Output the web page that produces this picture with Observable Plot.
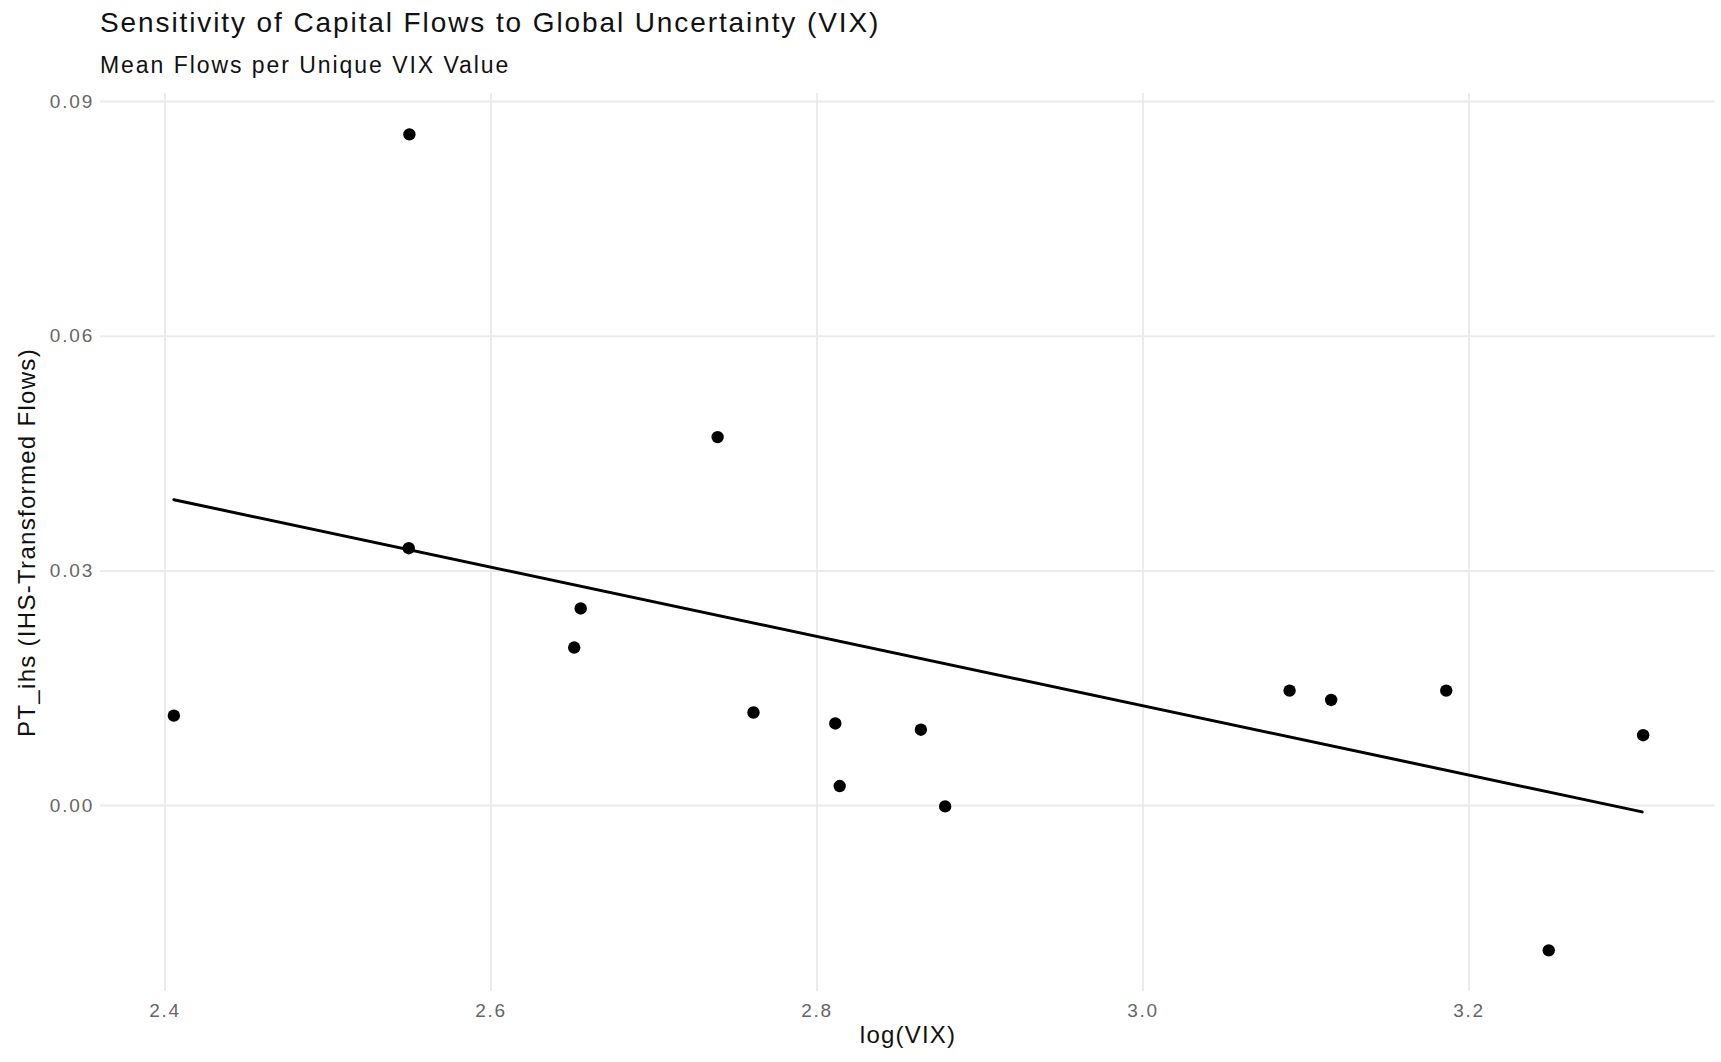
<!DOCTYPE html>
<html>
<head>
<meta charset="utf-8">
<script src="https://cdn.jsdelivr.net/npm/d3@7"></script>
<script src="https://cdn.jsdelivr.net/npm/@observablehq/plot@0.6"></script>
<style>
html, body { margin: 0; padding: 0; background: #fff; }
#wrap { position: relative; width: 1721px; height: 1062px; overflow: hidden; background: #fff; font-family: "Liberation Sans", Arial, sans-serif; }
#title { position: absolute; z-index: 2; left: 100px; top: 9px; font-size: 28px; line-height: 1; letter-spacing: 1.9px; color: #111; white-space: nowrap; }
#subtitle { position: absolute; z-index: 2; left: 100px; top: 54px; font-size: 23px; line-height: 1; letter-spacing: 1.95px; color: #111; white-space: nowrap; }
#chart { position: absolute; z-index: 1; left: 0; top: 75px; }
</style>
</head>
<body>
<div id="wrap">
  <div id="title"></div>
  <div id="subtitle"></div>
  <div id="chart"></div>
</div>
<script>
const titleText = "Sensitivity of Capital Flows to Global Uncertainty (VIX)";
const subtitleText = "Mean Flows per Unique VIX Value";
const xLabel = "log(VIX)";
const yLabel = "PT_ihs (IHS-Transformed Flows)";

// mean flows per unique VIX value
const logVix = [2.4054, 2.5499, 2.5495, 2.6550, 2.6510, 2.7390, 2.7610, 2.8112, 2.8139, 2.8637, 2.8786, 3.0899, 3.1154, 3.1860, 3.2489, 3.3068];
const ptIhs  = [0.0115, 0.0858, 0.0329, 0.0252, 0.0202, 0.0471, 0.0119, 0.0105, 0.0025, 0.0097, -0.0001, 0.0147, 0.0135, 0.0147, -0.0185, 0.0090];

// fitted linear trend (endpoints)
const fitX = [2.4054, 3.3062];
const fitY = [0.0391, -0.0008];

const xTicks = [2.4, 2.6, 2.8, 3.0, 3.2];
const yTicks = [0.00, 0.03, 0.06, 0.09];

document.getElementById("title").textContent = titleText;
document.getElementById("subtitle").textContent = subtitleText;

const points = logVix.map((x, i) => ({x, y: ptIhs[i]}));
const fit = fitX.map((x, i) => ({x, y: fitY[i]}));

const font = '"Liberation Sans", Arial, sans-serif';

const chart = Plot.plot({
  width: 1721,
  height: 987,
  marginLeft: 100,
  marginRight: 6,
  marginTop: 18,
  marginBottom: 71,
  style: {fontFamily: font, background: "transparent", overflow: "visible"},
  x: {domain: [2.3604, 3.3512]},
  y: {domain: [-0.02376, 0.09102]},
  marks: [
    Plot.gridX(xTicks, {stroke: "#EBEBEB", strokeOpacity: 1, strokeWidth: 2}),
    Plot.gridY(yTicks, {stroke: "#EBEBEB", strokeOpacity: 1, strokeWidth: 2}),
    Plot.axisX(xTicks, {tickSize: 0, tickPadding: 11.5, tickFormat: d3.format(".1f"), fontSize: 19, fill: "#666", label: null}),
    Plot.axisY(yTicks, {tickSize: 0, tickPadding: 6.5, tickFormat: d3.format(".2f"), fontSize: 19, fill: "#666", label: null}),
    Plot.line(fit, {x: "x", y: "y", stroke: "#000", strokeWidth: 3}),
    Plot.dot(points, {x: "x", y: "y", r: 6.2, fill: "#000", stroke: "none"}),
    Plot.text([xLabel], {text: d => d, frameAnchor: "bottom", textAnchor: "middle", dy: 51, fontSize: 24, fill: "#111"}),
    Plot.text([yLabel], {text: d => d, frameAnchor: "left", textAnchor: "middle", dx: -73, rotate: -90, fontSize: 24, fill: "#111"})
  ]
});

document.getElementById("chart").appendChild(chart);

d3.select(chart).selectAll('g[aria-label="x-axis tick label"] text, g[aria-label="y-axis tick label"] text')
  .style("letter-spacing", "1.8px").style("font-size", "19px");
d3.select(chart).selectAll("text").each(function() {
  const t = this.textContent;
  if (t === xLabel) d3.select(this).style("letter-spacing", "1.2px");
  if (t === yLabel) d3.select(this).style("letter-spacing", "1.3px");
});
</script>
</body>
</html>
